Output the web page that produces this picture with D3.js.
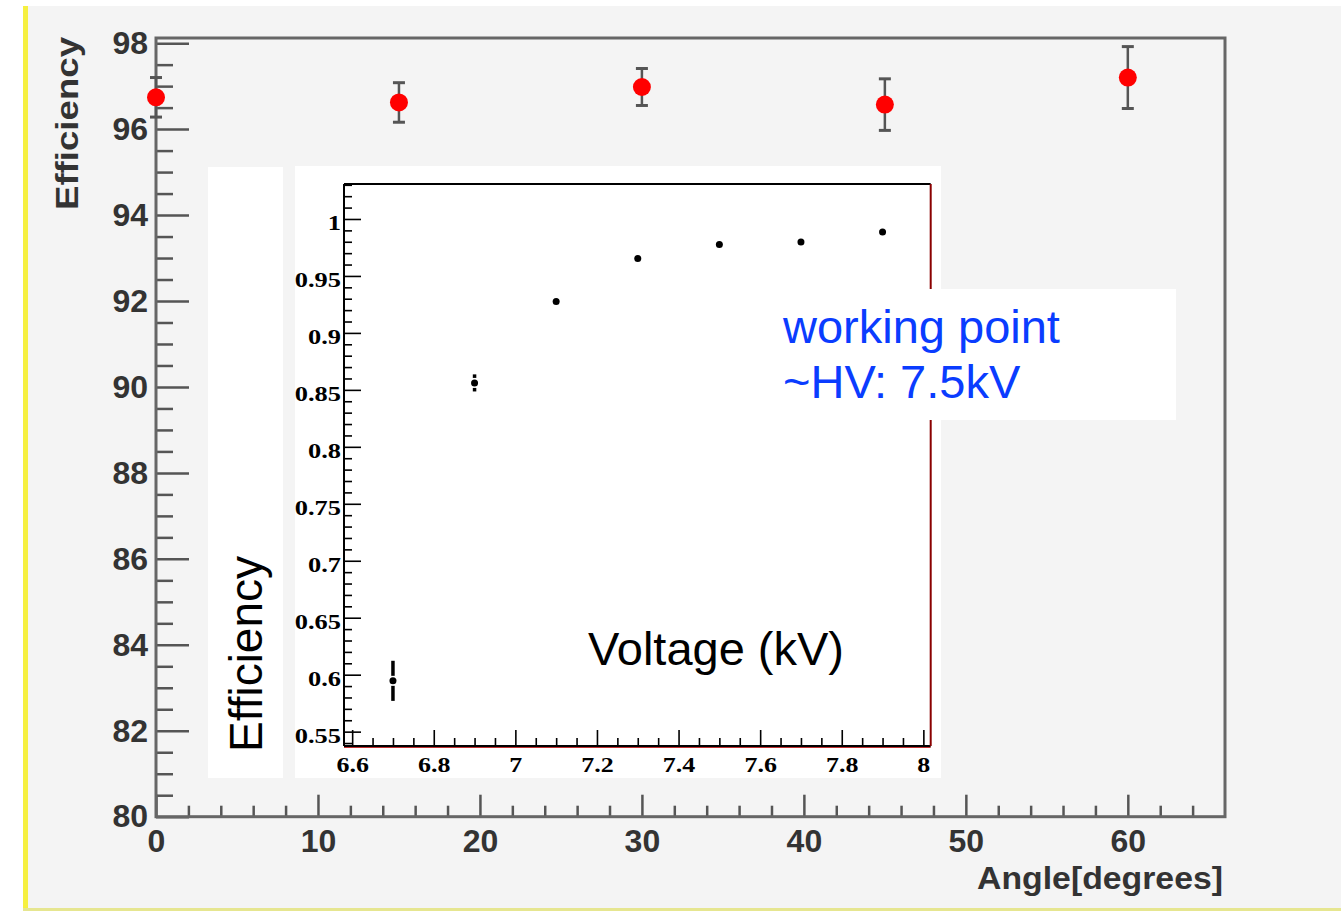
<!DOCTYPE html>
<html>
<head>
<meta charset="utf-8">
<script src="https://cdn.jsdelivr.net/npm/d3@7"></script>
<style>body{margin:0;background:#fff;}</style>
</head>
<body>
<script>
// DATA

// efficiency vs angle (main plot)
const angles = [0, 15, 30, 45, 60];
const angleEff = [96.74, 96.62, 96.98, 96.57, 97.2];
const angleErr = [0.46, 0.46, 0.43, 0.6, 0.72];

// efficiency vs voltage (inset)
const voltages = [6.7, 6.9, 7.1, 7.3, 7.5, 7.7, 7.9];
const voltEff = [0.5946, 0.8561, 0.9276, 0.9654, 0.9777, 0.9797, 0.9885];
const voltErr = [0.0176, 0.0075, 0, 0, 0, 0, 0];

// tick labels
const mainXTicks = [0, 10, 20, 30, 40, 50, 60];
const mainXLabels = ["0", "10", "20", "30", "40", "50", "60"];
const mainYTicks = [80, 82, 84, 86, 88, 90, 92, 94, 96, 98];
const mainYLabels = ["80", "82", "84", "86", "88", "90", "92", "94", "96", "98"];
const insetXTicks = [6.6, 6.8, 7, 7.2, 7.4, 7.6, 7.8, 8];
const insetXLabels = ["6.6", "6.8", "7", "7.2", "7.4", "7.6", "7.8", "8"];
const insetYTicks = [0.55, 0.6, 0.65, 0.7, 0.75, 0.8, 0.85, 0.9, 0.95, 1];
const insetYLabels = ["0.55", "0.6", "0.65", "0.7", "0.75", "0.8", "0.85", "0.9", "0.95", "1"];

// MAKE THE CHART

const W = 1341;
const H = 911;

const svg = d3.select("body")
  .append("svg")
  .attr("width", W)
  .attr("height", H);

// canvas background + yellow edges
svg.append("rect").attr("x", 23).attr("y", 6).attr("width", W - 23).attr("height", 902).attr("fill", "#f4f4f4");
svg.append("rect").attr("x", 23).attr("y", 6).attr("width", 5).attr("height", H - 6).attr("fill", "#f6f040");
svg.append("rect").attr("x", 23).attr("y", 908).attr("width", W - 23).attr("height", 3).attr("fill", "#e6e690");

const xScale = d3.scaleLinear().domain([0, 66]).range([156, 1225]);
const yScale = d3.scaleLinear().domain([80, 98.12]).range([816.7, 38]);

function drawAxis(gen, tr) {
  const g = svg.append("g").attr("transform", tr).call(gen);
  g.select(".domain").remove();
  return g;
}

function styleMain(g) {
  g.attr("font-family", "Liberation Sans, Arial, sans-serif")
   .attr("font-size", 32)
   .attr("font-weight", "bold");
  g.selectAll("line").attr("stroke", "#555").attr("stroke-width", 2.5);
  g.selectAll("text").attr("fill", "#333");
}

// main y axis
styleMain(drawAxis(d3.axisLeft(yScale).tickValues(d3.range(80, 98.01, 0.5).filter(v => v % 2 !== 0))
  .tickSize(-17).tickFormat(""), `translate(${xScale(0)},0)`));
styleMain(drawAxis(d3.axisLeft(yScale).tickValues(mainYTicks)
  .tickSize(-33).tickPadding(8).tickFormat((d, i) => mainYLabels[i]), `translate(${xScale(0)},0)`));

// main x axis
styleMain(drawAxis(d3.axisBottom(xScale).tickValues(d3.range(0, 66, 2).filter(v => v % 10 !== 0))
  .tickSize(-11).tickFormat(""), `translate(0,${yScale(80)})`));
styleMain(drawAxis(d3.axisBottom(xScale).tickValues(mainXTicks)
  .tickSize(-22).tickPadding(13).tickFormat((d, i) => mainXLabels[i]), `translate(0,${yScale(80)})`));

// main frame
svg.append("rect")
  .attr("x", xScale(0)).attr("y", yScale.range()[1])
  .attr("width", xScale(66) - xScale(0)).attr("height", yScale(80) - yScale.range()[1])
  .attr("fill", "none").attr("stroke", "#666").attr("stroke-width", 3);

// main titles
svg.append("text")
  .text("Efficiency")
  .attr("transform", "translate(78,37) rotate(-90)")
  .attr("text-anchor", "end")
  .attr("font-family", "Liberation Sans, Arial, sans-serif")
  .attr("font-weight", "bold").attr("font-size", 32).attr("fill", "#333")
  .attr("textLength", 173).attr("lengthAdjust", "spacingAndGlyphs");

svg.append("text")
  .text("Angle[degrees]")
  .attr("x", 977).attr("y", 889)
  .attr("font-family", "Liberation Sans, Arial, sans-serif")
  .attr("font-weight", "bold").attr("font-size", 32).attr("fill", "#333")
  .attr("textLength", 246).attr("lengthAdjust", "spacingAndGlyphs");

// main data: error bars + markers
const mainPts = angles.map((a, i) => ({ x: a, y: angleEff[i], e: angleErr[i] }));
const mp = svg.append("g");
mp.selectAll(".ebar").data(mainPts).enter().append("line")
  .attr("x1", d => xScale(d.x)).attr("x2", d => xScale(d.x))
  .attr("y1", d => yScale(d.y - d.e)).attr("y2", d => yScale(d.y + d.e))
  .attr("stroke", "#555").attr("stroke-width", 2.5);
[-1, 1].forEach(s => {
  mp.selectAll(".cap" + s).data(mainPts).enter().append("line")
    .attr("x1", d => xScale(d.x) - 6).attr("x2", d => xScale(d.x) + 6)
    .attr("y1", d => yScale(d.y + s * d.e)).attr("y2", d => yScale(d.y + s * d.e))
    .attr("stroke", "#555").attr("stroke-width", 3);
});
mp.selectAll("circle").data(mainPts).enter().append("circle")
  .attr("cx", d => xScale(d.x)).attr("cy", d => yScale(d.y))
  .attr("r", 9).attr("fill", "#ff0000");

// INSET

svg.append("rect").attr("x", 208).attr("y", 167).attr("width", 75).attr("height", 611).attr("fill", "#fff");
svg.append("rect").attr("x", 295).attr("y", 166).attr("width", 646).attr("height", 612).attr("fill", "#fff");

const xi = d3.scaleLinear().domain([6.58, 8.018]).range([344, 930.7]);
const yi = d3.scaleLinear().domain([0.5374, 1.0307]).range([746, 184]);

function styleInset(g) {
  g.attr("font-family", "Liberation Serif, Times New Roman, serif")
   .attr("font-size", 22)
   .attr("font-weight", "bold");
  g.selectAll("line").attr("stroke", "#000").attr("stroke-width", 1.6);
  g.selectAll("text").attr("fill", "#000");
}

const notOn = (v, step) => Math.abs(Math.round(v / step) - v / step) > 1e-6;

// inset y axis
styleInset(drawAxis(d3.axisLeft(yi).tickValues(d3.range(0.54, 1.031, 0.01).filter(v => notOn(v, 0.05)))
  .tickSize(-8).tickFormat(""), `translate(${xi.range()[0]},0)`));
const iy = drawAxis(d3.axisLeft(yi).tickValues(insetYTicks)
  .tickSize(-17).tickFormat((d, i) => insetYLabels[i]), `translate(${xi.range()[0]},0)`);
styleInset(iy);
iy.selectAll("text").attr("x", 0).attr("dy", null).attr("y", 11)
  .attr("transform", "translate(-3,0) scale(1.2,1)");

// inset x axis
styleInset(drawAxis(d3.axisBottom(xi).tickValues(d3.range(6.6, 8.001, 0.05).filter(v => notOn(v, 0.2)))
  .tickSize(-8).tickFormat(""), `translate(0,${yi.range()[0]})`));
const ix = drawAxis(d3.axisBottom(xi).tickValues(insetXTicks)
  .tickSize(-16).tickFormat((d, i) => insetXLabels[i]), `translate(0,${yi.range()[0]})`);
styleInset(ix);
ix.selectAll("text").attr("dy", null).attr("y", 26).attr("transform", "scale(1.18,1)");

// inset frame
const [fx0, fx1] = xi.range();
const [fy1, fy0] = yi.range();
svg.append("line").attr("x1", fx0).attr("x2", fx1).attr("y1", fy1 + 1.5).attr("y2", fy1 + 1.5).attr("stroke", "#c03030").attr("stroke-width", 1);
svg.append("line").attr("x1", fx0).attr("x2", fx1).attr("y1", fy1).attr("y2", fy1).attr("stroke", "#000").attr("stroke-width", 2);
svg.append("line").attr("x1", fx0).attr("x2", fx1).attr("y1", fy0).attr("y2", fy0).attr("stroke", "#000").attr("stroke-width", 2);
svg.append("line").attr("x1", fx0).attr("x2", fx0).attr("y1", fy0).attr("y2", fy1).attr("stroke", "#000").attr("stroke-width", 2);
svg.append("line").attr("x1", fx1).attr("x2", fx1).attr("y1", fy0).attr("y2", fy1).attr("stroke", "#8a0000").attr("stroke-width", 2);

// inset data (error bars drawn with a small gap around the marker)
const insetPts = voltages.map((v, i) => ({ x: v, y: voltEff[i], e: voltErr[i] }));
const ip = svg.append("g");
const mr = 3.5;
const gap = 1.5;
insetPts.forEach(d => {
  const cy = yi(d.y);
  const ep = yi(d.y - d.e) - cy;
  if (ep > mr + gap + 1) {
    ip.append("line").attr("x1", xi(d.x)).attr("x2", xi(d.x))
      .attr("y1", cy - ep).attr("y2", cy - mr - gap).attr("stroke", "#000").attr("stroke-width", 3.5);
    ip.append("line").attr("x1", xi(d.x)).attr("x2", xi(d.x))
      .attr("y1", cy + mr + gap).attr("y2", cy + ep).attr("stroke", "#000").attr("stroke-width", 3.5);
  }
});
ip.selectAll("circle").data(insetPts).enter().append("circle")
  .attr("cx", d => xi(d.x)).attr("cy", d => yi(d.y))
  .attr("r", mr).attr("fill", "#000");

// inset titles
svg.append("text")
  .text("Efficiency")
  .attr("transform", "translate(262,752) rotate(-90)")
  .attr("font-family", "Liberation Sans, Arial, sans-serif")
  .attr("font-size", 46).attr("fill", "#000");

svg.append("text")
  .text("Voltage (kV)")
  .attr("x", 588).attr("y", 665)
  .attr("font-family", "Liberation Sans, Arial, sans-serif")
  .attr("font-size", 47).attr("fill", "#000");

// annotation
svg.append("rect").attr("x", 770).attr("y", 289).attr("width", 406).attr("height", 131).attr("fill", "#fff");
const note = svg.append("text")
  .attr("font-family", "Liberation Sans, Arial, sans-serif")
  .attr("font-size", 47).attr("fill", "#0a3cff");
note.append("tspan").attr("x", 783).attr("y", 343).text("working point");
note.append("tspan").attr("x", 783).attr("y", 398).text("~HV: 7.5kV");
</script>
</body>
</html>
